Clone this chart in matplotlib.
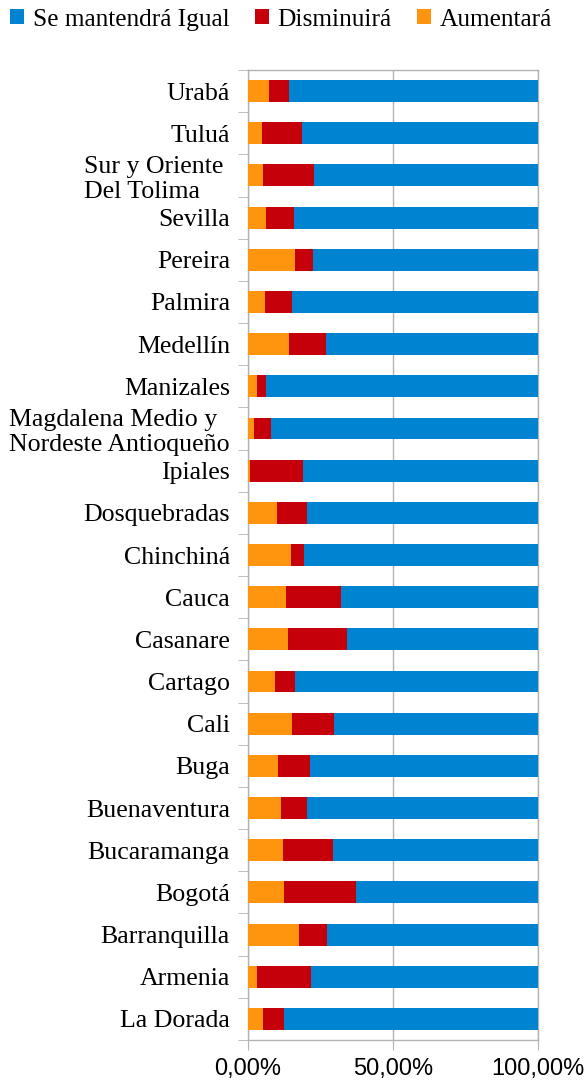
import numpy as np
import matplotlib
matplotlib.use('Agg')
import matplotlib.pyplot as plt

# categories bottom -> top
ciudades = ['La Dorada', 'Armenia', 'Barranquilla', 'Bogotá', 'Bucaramanga',
            'Buenaventura', 'Buga', 'Cali', 'Cartago', 'Casanare', 'Cauca',
            'Chinchiná', 'Dosquebradas', 'Ipiales',
            'Magdalena Medio y\nNordeste Antioqueño', 'Manizales', 'Medellín',
            'Palmira', 'Pereira', 'Sevilla', 'Sur y Oriente \nDel Tolima',
            'Tuluá', 'Urabá']

# percentages
aumentara = [5.2, 3.1, 17.6, 12.4, 12.1, 11.4, 10.3, 15.2, 9.3, 13.8, 13.1,
             14.8, 10.0, 0.7, 2.1, 3.1, 14.1, 5.9, 16.2, 6.2, 5.2, 4.8, 7.2]
disminuira = [7.2, 18.6, 9.7, 24.8, 17.2, 9.0, 11.0, 14.5, 6.9, 20.3, 19.0,
              4.5, 10.3, 18.3, 5.9, 3.1, 12.8, 9.3, 6.2, 9.7, 17.6, 13.8, 6.9]
igual = [87.6, 78.3, 72.7, 62.8, 70.7, 79.6, 78.7, 70.3, 83.8, 65.9, 67.9,
         80.7, 79.7, 81.0, 92.0, 93.8, 73.1, 84.8, 77.6, 84.1, 77.2, 81.4, 85.9]

col_igual = '#0084d1'
col_dism = '#c5000b'
col_aum = '#ff950e'
gris = '#b3b3b3'

fig = plt.figure(figsize=(5.87, 10.84), dpi=100)
ax = fig.add_axes([248/587, 44/1084, 290/587, 970/1084])

y = np.arange(len(ciudades))
a = np.array(aumentara)
d = np.array(disminuira)
g = np.array(igual)
h = 0.52

b_aum = ax.barh(y, a, height=h, color=col_aum, zorder=3, label='Aumentará')
b_dis = ax.barh(y, d, left=a, height=h, color=col_dism, zorder=3, label='Disminuirá')
b_ig = ax.barh(y, g, left=a + d, height=h, color=col_igual, zorder=3, label='Se mantendrá Igual')

ax.set_xlim(0, 100)
ax.set_ylim(-0.5, len(ciudades) - 0.5)

ax.set_xticks([0, 50, 100])
ax.set_xticklabels(['0,00%', '50,00%', '100,00%'], family='Liberation Sans', fontsize=17)
ax.tick_params(axis='x', length=7, color=gris, pad=6)
ax.xaxis.grid(True, color=gris, lw=1, zorder=0)

ax.set_yticks(y)
ax.set_yticklabels(ciudades, family='Liberation Serif', fontsize=18.6)
for t in ax.get_yticklabels():
    t.set_multialignment('left')
ax.set_yticks(np.arange(-0.5, len(ciudades), 1), minor=True)
ax.tick_params(axis='y', which='major', length=0, pad=13)
ax.tick_params(axis='y', which='minor', length=7, color=gris)

for s in ax.spines.values():
    s.set_color(gris)
    s.set_linewidth(1)

fig.legend(handles=[b_ig, b_dis, b_aum], loc='center', bbox_to_anchor=(0.479, 0.982),
           ncol=3, frameon=False, prop={'family': 'Liberation Serif', 'size': 18.3},
           handlelength=0.55, handleheight=0.55, handletextpad=0.35, columnspacing=1.0,
           borderpad=0)

fig.savefig('out.png', dpi=100)
